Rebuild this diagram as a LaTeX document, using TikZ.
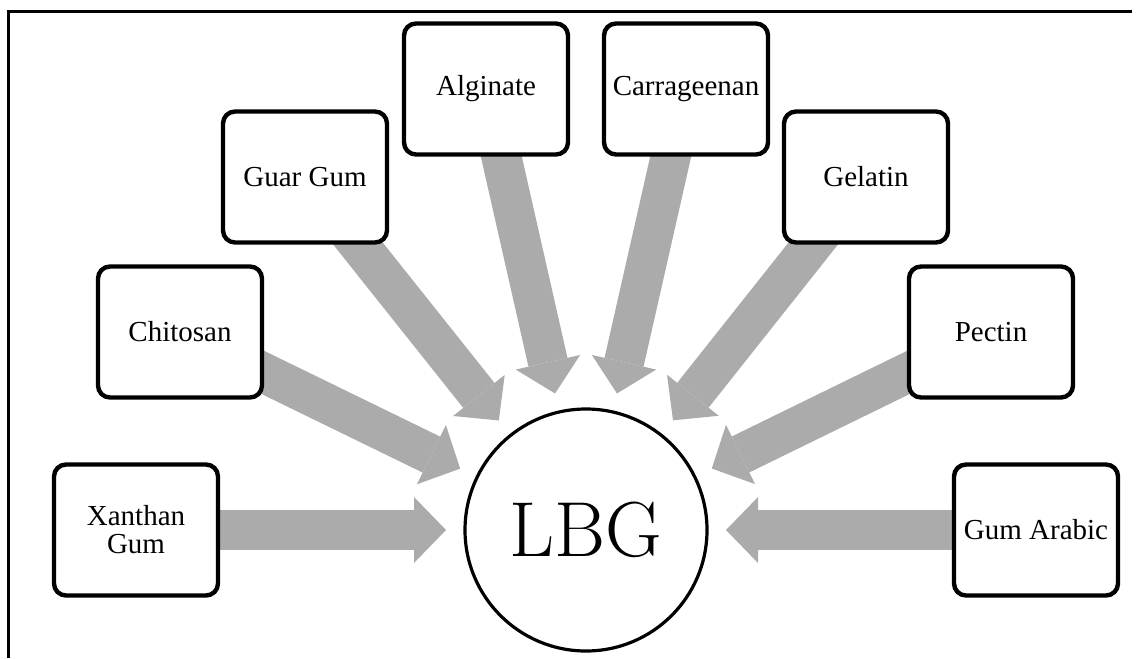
\documentclass[tikz,border=0pt]{standalone}
\usepackage{fontspec}
\usetikzlibrary{arrows.meta,backgrounds}
\newfontfamily\boxfont{Liberation Serif}
\definecolor{feedgray}{RGB}{171,171,171}

\begin{document}
\begin{tikzpicture}[x=0.5pt,y=-0.5pt,
    src/.style={draw,line width=2.2pt,rounded corners=6pt,fill=white,
      minimum width=82pt,minimum height=65.5pt,align=center,
      font=\boxfont\fontsize{14.5}{14}\selectfont},
    hub/.style={draw,circle,line width=1.6pt,fill=white,minimum size=121pt,
      inner sep=0pt,outer sep=0pt,font=\fontsize{39}{42}\selectfont},
    feed/.style={draw=feedgray,line width=20pt,shorten >=9.5pt,
      -{Triangle[width=33pt,length=16pt,line width=0pt]}}]
      \useasboundingbox (0,0) rectangle (1138,658);
      \draw[line width=1.5pt] (8,658) -- (8,12) -- (1132,12);

      \node[hub] (LBG) at (586, 530) {LBG};

      \node[src] (XG) at (136, 530) {Xanthan\\Gum};
      \node[src] (CH) at (180, 332) {Chitosan};
      \node[src] (GG) at (305, 177) {Guar Gum};
      \node[src] (AL) at (486, 89) {Alginate};
      \node[src] (CA) at (686, 89) {Carrageenan};
      \node[src] (GE) at (866, 177) {Gelatin};
      \node[src] (PE) at (991, 332) {Pectin};
      \node[src] (GA) at (1036, 530) {Gum Arabic};

      \begin{scope}[on background layer]
      \draw[feed] (XG.center) to (LBG);
      \draw[feed] (CH.center) to (LBG);
      \draw[feed] (GG.center) to (LBG);
      \draw[feed] (AL.center) to (LBG);
      \draw[feed] (CA.center) to (LBG);
      \draw[feed] (GE.center) to (LBG);
      \draw[feed] (PE.center) to (LBG);
      \draw[feed] (GA.center) to (LBG);
      \end{scope}
    \end{tikzpicture}
\end{document}
